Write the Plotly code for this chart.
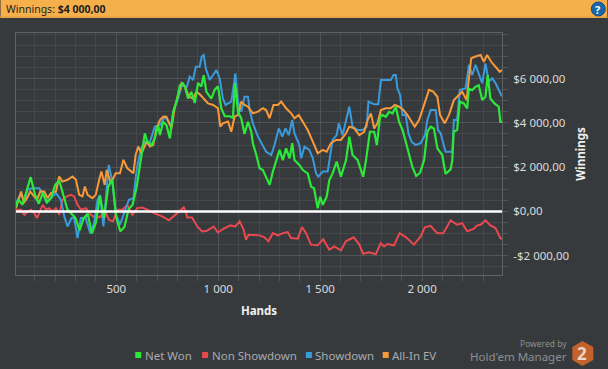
import plotly.graph_objects as go

net_hands = [0,20,40,60,80,100,120,140,160,180,200,220,240,260,280,300,320,340,360,380,400,420,440,460,480,500,520,540,560,580,600,620,640,652,673,689,705,714,730,746,763,779,795,812,825,836,852,868,885,901,917,929,942,966,983,999,1015,1032,1056,1072,1082,1097,1113,1129,1146,1162,1170,1187,1203,1219,1235,1252,1268,1284,1301,1317,1333,1350,1363,1374,1398,1415,1439,1456,1470,1488,1500,1513,1532,1545,1561,1581,1602,1627,1643,1659,1684,1700,1711,1725,1744,1765,1778,1794,1806,1822,1838,1855,1871,1887,1904,1920,1936,1952,1971,1990,2010,2026,2042,2058,2075,2099,2115,2140,2148,2155,2172,2185,2205,2221,2230,2246,2262,2278,2295,2311,2322,2335,2355,2376,2384,2392]
net_won = [100,550,300,950,1550,800,350,850,400,600,1200,1400,700,100,-100,-300,-850,-300,-100,-1000,-500,700,-300,1100,1450,-300,-900,-700,100,300,1100,2400,3530,3150,3000,3300,3900,3450,4050,3900,3300,4500,4950,5700,5800,5640,5100,5400,4900,5800,5640,6150,5400,5100,5500,5650,4650,4300,4300,4230,5800,4500,4200,3500,4050,3600,3080,2550,1950,1870,1500,1200,1800,2320,2780,2320,2850,2400,3080,2320,2100,1870,1720,1120,1050,140,670,300,670,1420,1720,2250,1570,2320,3380,2550,2320,1870,1570,2320,3600,3600,3000,4280,4360,4280,4500,4430,4730,4050,3680,3150,2550,2020,1600,1750,2320,3600,3830,3750,2850,2550,1700,1900,2300,3600,3680,4960,4880,4650,5550,5480,5630,5700,5030,5180,6160,5100,4880,4730,4050,4050]

nsd_hands = [8,33,49,65,82,98,111,127,139,155,171,187,204,220,236,258,277,293,310,326,351,375,399,424,440,465,484,505,530,554,579,603,628,652,685,725,758,799,831,843,848,872,897,921,945,978,998,1027,1060,1084,1105,1125,1136,1149,1178,1203,1227,1246,1268,1292,1317,1341,1357,1390,1411,1431,1455,1488,1515,1528,1545,1569,1602,1626,1664,1691,1711,1740,1773,1797,1814,1830,1862,1890,1920,1960,1993,2013,2042,2074,2104,2140,2172,2197,2221,2254,2270,2287,2311,2335,2360,2384,2392]
non_showdown = [80,80,-150,0,80,-80,-300,0,300,80,150,0,150,-150,530,680,750,680,300,80,150,-150,-300,-230,80,-380,-450,80,80,300,-150,150,180,80,-75,-220,-400,-75,180,-75,-270,-270,-680,-900,-870,-680,-950,-780,-630,-680,-450,-830,-1280,-1050,-1050,-1080,-1170,-1350,-980,-1080,-980,-930,-1200,-1230,-710,-980,-1500,-1530,-1250,-1470,-1730,-1580,-1760,-1350,-1170,-1470,-1910,-1840,-1930,-1430,-1580,-1470,-1530,-980,-1160,-1500,-1130,-720,-650,-980,-980,-400,-600,-530,-900,-780,-630,-600,-400,-630,-750,-1200,-1250]

sd_hands = [8,33,49,65,85,106,122,139,155,179,204,228,245,261,280,293,310,326,350,372,391,408,420,437,448,463,481,497,518,538,562,584,600,619,640,665,689,714,738,771,779,803,825,844,860,877,890,909,919,929,939,958,975,991,1007,1023,1036,1064,1076,1084,1097,1113,1129,1146,1154,1170,1195,1211,1235,1260,1276,1297,1314,1330,1346,1363,1374,1398,1407,1423,1447,1464,1480,1491,1513,1537,1553,1561,1581,1591,1610,1627,1643,1659,1684,1708,1728,1737,1765,1785,1798,1822,1846,1860,1871,1879,1892,1904,1920,1933,1948,1969,1993,2014,2026,2042,2067,2078,2091,2115,2148,2156,2172,2185,2213,2230,2246,2262,2278,2295,2311,2327,2344,2360,2384,2392]
showdown = [370,830,450,980,1050,1050,1050,830,450,600,830,530,-230,-680,-300,-300,-1200,-300,-300,-980,-530,530,750,-680,600,2100,1350,-80,-600,-80,530,600,1880,2780,3150,3150,3830,3900,4280,3900,4500,5100,5790,5560,6090,5940,6540,6540,6990,7060,6460,5940,6160,6390,6010,5100,4810,4960,5710,6240,4960,4510,5180,5180,4580,3980,3380,3080,2700,2550,3000,3750,3380,3750,3450,4130,3530,3000,2400,2930,2780,2400,1720,1570,1800,1800,2630,3230,3450,3980,3450,4130,4730,3830,3680,3680,3830,4960,4840,4840,5940,5940,5940,6160,6160,5560,5260,4360,4360,3530,3150,3000,3080,3450,4130,4580,4580,3680,3530,2700,2700,4130,4130,5490,5560,6620,6160,6620,6240,5790,6690,5860,6010,5800,5340,5200]

ev_hands = [8,20,33,46,62,78,95,111,127,147,163,179,204,220,236,261,285,302,318,334,346,359,383,399,416,427,443,453,473,497,518,535,554,584,595,608,624,649,665,681,697,714,730,746,763,771,787,803,820,836,857,877,893,913,934,950,975,999,1010,1023,1048,1064,1080,1097,1113,1129,1146,1170,1195,1219,1235,1252,1271,1293,1309,1333,1358,1374,1395,1415,1439,1464,1488,1513,1532,1553,1578,1602,1627,1643,1667,1692,1716,1733,1749,1765,1781,1798,1822,1846,1866,1887,1908,1928,1944,1964,1985,2010,2034,2055,2075,2088,2111,2132,2156,2172,2197,2218,2230,2241,2262,2287,2303,2319,2339,2360,2381,2392]
all_in_ev = [150,530,900,380,600,900,680,530,900,900,600,830,900,1580,1350,1430,1580,1430,750,680,1130,750,600,750,1430,1800,1200,1880,1280,1730,1730,2330,1950,1730,2560,2930,2630,3150,2930,3000,3750,4130,4280,4280,3900,3750,4730,5260,5790,5640,5180,5100,5410,5260,5030,4880,4810,4660,3830,3980,4060,3600,4280,4360,4960,4810,4730,4430,4510,4660,4580,4210,4810,4810,4960,4660,4430,4210,4360,4060,3680,3150,2630,2780,2700,3080,3230,3230,3530,3830,3750,3450,3600,4130,4430,3750,3980,4580,4660,4660,4810,4730,4580,4360,4130,3830,4130,4880,5490,5410,5180,4360,3980,4360,5030,5180,5410,5030,6090,6920,7000,7070,6760,7070,6760,6540,6310,6390]

series_names = ["Net Won", "Non Showdown", "Showdown", "All-In EV"]
series_colors = ["#2CE83A", "#E8484E", "#3A9BDC", "#F79A3A"]

x_tick_vals = [500, 1000, 1500, 2000]
x_tick_text = ["500", "1 000", "1 500", "2 000"]
y_tick_vals = [-2000, 0, 2000, 4000, 6000]
y_tick_text = ["-$2 000,00", "$0,00", "$2 000,00", "$4 000,00", "$6 000,00"]

BG = "#373A3D"; MAJOR = "#515457"; MINOR = "#45484B"; FONT = "Noto Sans"
L, R, T, B = 15.5, 502.5, 33.0, 275.0
def px(p): return (p - L) / (R - L)
def py(p): return (B - p) / (B - T)

fig = go.Figure()
for h, v, i, w in [(nsd_hands, non_showdown, 1, 2), (sd_hands, showdown, 2, 2),
                   (ev_hands, all_in_ev, 3, 2), (net_hands, net_won, 0, 2.2)]:
    fig.add_trace(go.Scatter(x=h, y=v, mode="lines", name=series_names[i],
                             line=dict(color=series_colors[i], width=w), showlegend=False))

shapes = [
    dict(type="rect", xref="paper", yref="paper", x0=px(0), x1=px(608), y0=py(0), y1=py(18),
         fillcolor="#F5B04C", line_width=0, layer="below"),
    dict(type="rect", xref="paper", yref="paper", x0=px(0), x1=px(608), y0=py(16), y1=py(18),
         fillcolor="#E9A545", line_width=0, layer="below"),
    dict(type="circle", xref="paper", yref="paper", x0=px(592), x1=px(606), y0=py(2), y1=py(16),
         fillcolor="#1A67A8", line=dict(color="#0E4A80", width=1)),
    dict(type="line", xref="x", yref="y", x0=8, x1=2392, y0=0, y1=0,
         line=dict(color="#FFFFFF", width=2.5), layer="above"),
    dict(type="path", xref="paper", yref="paper",
         path="M {} {} L {} {} L {} {} L {} {} L {} {} L {} {} Z".format(
             px(583), py(341), px(594), py(347), px(594), py(360),
             px(583), py(366), px(573), py(360), px(573), py(347)),
         fillcolor="#C4622B", line_width=0),
]
for sx, c in zip([135, 202, 306, 383], series_colors):
    shapes.append(dict(type="rect", xref="paper", yref="paper", x0=px(sx), x1=px(sx + 6),
                       y0=py(352), y1=py(358), fillcolor=c, line_width=0))

ann = []
def text(x, y, s, size, color, anchor="left", bold=False, angle=0):
    ann.append(dict(xref="paper", yref="paper", x=px(x), y=py(y), text=f"<b>{s}</b>" if bold else s,
                    showarrow=False, xanchor=anchor, yanchor="middle", textangle=angle,
                    font=dict(family=FONT, size=size, color=color)))
text(3, 9, "Winnings: <b>$4 000,00</b>", 10.5, "#1E1E1E")
text(599, 9, "?", 11, "#FFFFFF", "center", True)
for tx, s in zip([143, 210, 313, 390], series_names):
    text(tx, 355, s, 11.5, "#A9ABAD")
text(570, 343, "Powered by", 8.5, "#8C8E90", "right")
text(570, 356, "Hold'em Manager", 11.5, "#8C8E90", "right")
text(583, 353, "2", 17, "#E8D9CC", "center", True)

fig.update_layout(
    width=608, height=369, autosize=False,
    margin=dict(l=L, r=608 - R, t=T, b=369 - B, pad=0),
    paper_bgcolor=BG, plot_bgcolor=BG,
    font=dict(family=FONT, size=11.5, color="#DADADA"),
    shapes=shapes, annotations=ann, showlegend=False,
    xaxis=dict(range=[8, 2392], tickmode="array", tickvals=x_tick_vals, ticktext=x_tick_text,
               showgrid=True, gridcolor=MAJOR, gridwidth=1, zeroline=False,
               showline=True, linecolor="#5F6265", linewidth=1, mirror=True,
               ticks="outside", ticklen=5, tickcolor=MAJOR, ticklabelstandoff=-2,
               minor=dict(dtick=100, tick0=0, showgrid=True, gridcolor=MINOR, gridwidth=1,
                          ticks="outside", ticklen=5, tickcolor=MAJOR),
               tickfont=dict(size=11.5, color="#DADADA"),
               title=dict(text="<b>Hands</b>", font=dict(size=11.5, color="#F0F0F0"), standoff=12)),
    yaxis=dict(range=[-2870, 8060], side="right", tickmode="array", tickvals=y_tick_vals, ticktext=y_tick_text,
               showgrid=True, gridcolor=MAJOR, gridwidth=1, zeroline=False,
               showline=True, linecolor="#5F6265", linewidth=1, mirror=True,
               ticks="outside", ticklen=5, tickcolor=MAJOR, ticklabelstandoff=3,
               minor=dict(dtick=500, tick0=0, showgrid=True, gridcolor=MINOR, gridwidth=1,
                          ticks="outside", ticklen=5, tickcolor=MAJOR),
               tickfont=dict(size=11.5, color="#DADADA"),
               title=dict(text="<b>Winnings</b>", font=dict(size=11.5, color="#F0F0F0"), standoff=8)),
)
fig.write_html("out.html", config=dict(displayModeBar=False),
               post_script="document.body.style.margin='0';document.body.style.background='#373A3D';")
